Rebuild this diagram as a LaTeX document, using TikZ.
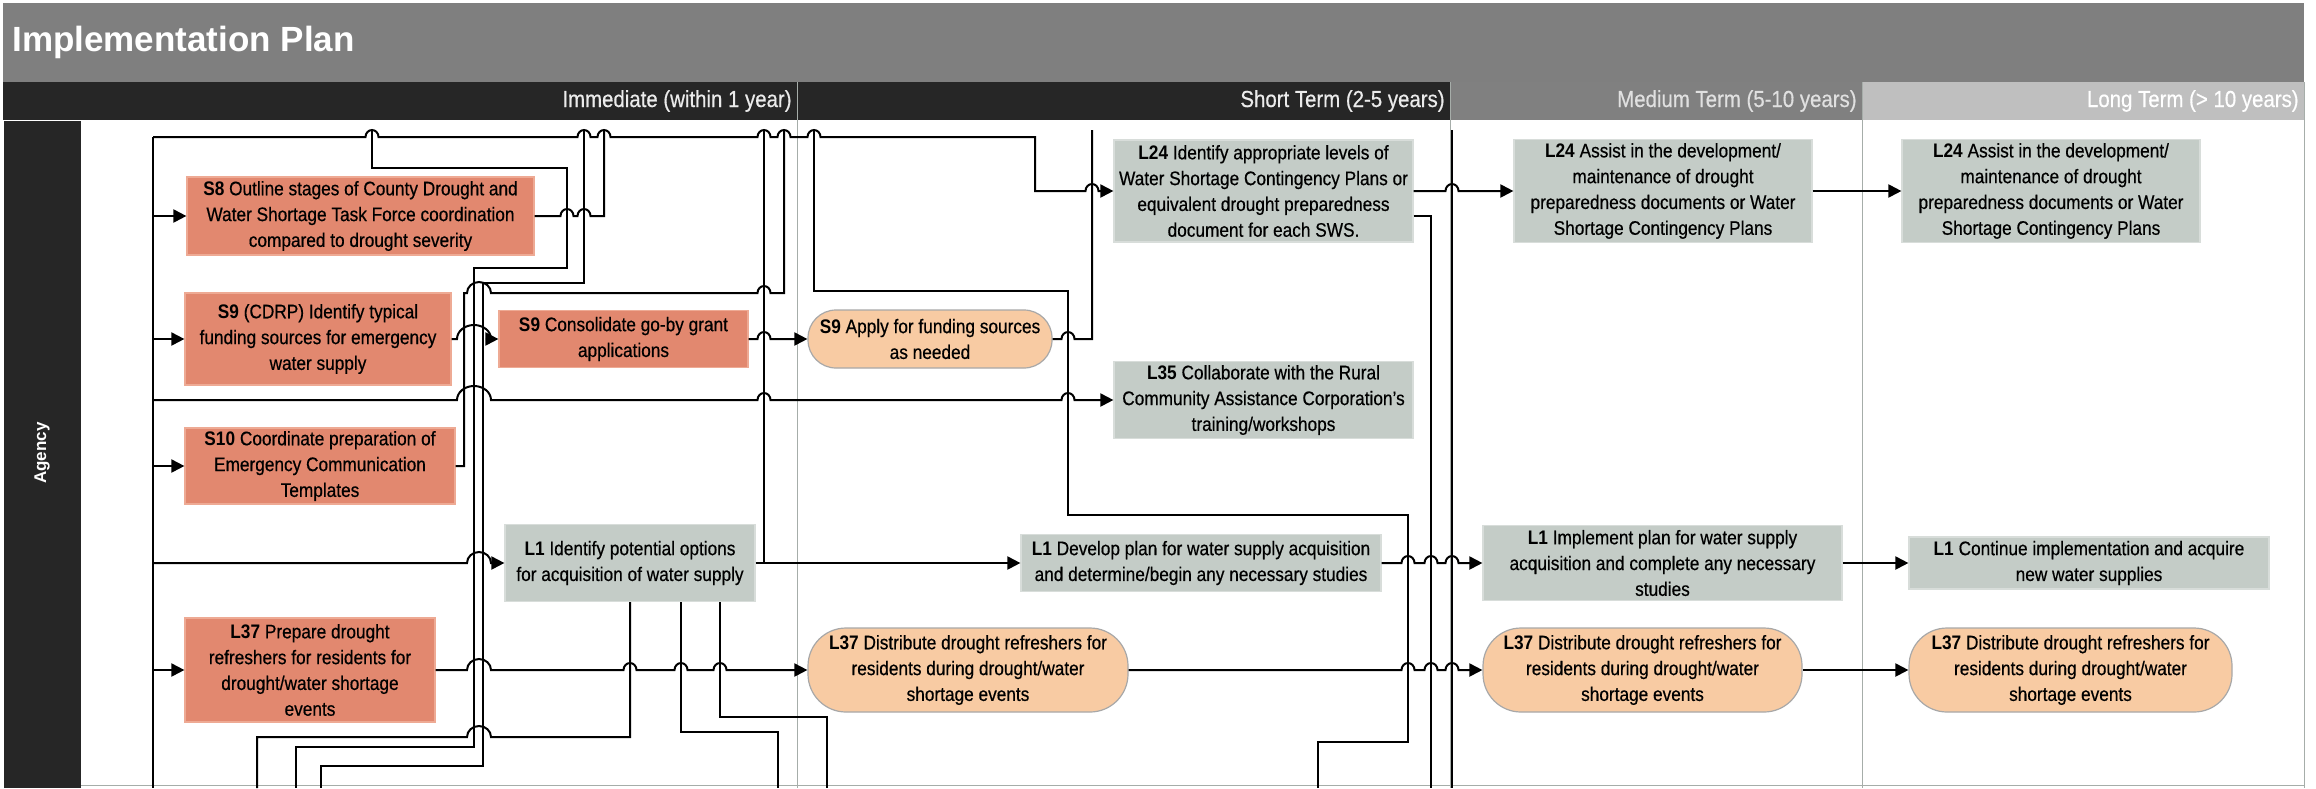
\documentclass[tikz,border=0pt]{standalone}
\usepackage{fontspec}
\setmainfont{Liberation Sans}
\newfontfamily\cond{Liberation Sans}[FakeStretch=0.88,UprightFeatures={FakeBold=0.5}]
\usetikzlibrary{arrows.meta}
\definecolor{titlegray}{HTML}{7F7F7F}
\definecolor{hdrdark}{HTML}{262626}
\definecolor{hdrmid}{HTML}{808080}
\definecolor{hdrlight}{HTML}{BFBFBF}
\definecolor{salm}{HTML}{E2886F}
\definecolor{salmedge}{HTML}{EEAA94}
\definecolor{grayfill}{HTML}{C4CCC7}
\definecolor{grayedge}{HTML}{D8DDDA}
\definecolor{peachfill}{HTML}{F8CBA3}
\definecolor{peachedge}{HTML}{A8A8A8}
\definecolor{sepgray}{HTML}{A6ADA9}
\newcommand\boxfont{\cond\fontsize{9.8}{12.9}\selectfont}
\newcommand\hopr[4]{-- (#1-#3,#2) arc[start angle=180,end angle=0,x radius=#3*0.5pt,y radius=#4*0.5pt]}
\newcommand\hopl[4]{-- (#1+#3,#2) arc[start angle=0,end angle=180,x radius=#3*0.5pt,y radius=#4*0.5pt]}
\newcommand\hs[2]{\hopr{#1}{#2}{6.5}{7}}
\begin{document}
\begin{tikzpicture}[x=0.5pt,y=-0.5pt,
  nbox/.style={rectangle,inner sep=1pt,align=center,font=\boxfont,text=black,line width=0.6pt},
  nsalm/.style={nbox,fill=salm,draw=salmedge},
  ngray/.style={nbox,fill=grayfill,draw=grayedge},
  npeach/.style={nbox,fill=peachfill,draw=peachedge},
  conn/.style={line width=1pt,draw=black},
  arr/.style={-{Triangle[length=6.5pt,width=6.5pt]}},
  busline/.style={line width=1.4pt,draw=black},
  sepline/.style={line width=0.5pt,draw=sepgray},
  hdr/.style={anchor=east,inner sep=0pt,font=\cond\fontsize{11.6}{13}\selectfont}]
\useasboundingbox (0,0) rectangle (2316,788);
\fill[white] (0,0) rectangle (2316,788);
% title bar
\fill[titlegray] (3,3) rectangle (2304,82);
\node[anchor=west,text=white,inner sep=0pt,font=\bfseries\fontsize{17.5}{20}\selectfont] (title) at (12,42) {Implementation Plan};
% header row
\fill[hdrdark] (3,82) rectangle (1450,120);
\fill[hdrmid] (1450,82) rectangle (1862,120);
\fill[hdrlight] (1862,82) rectangle (2304,120);
\node[hdr,text=white!92!black] (h1) at (792,101) {Immediate (within 1 year)};
\node[hdr,text=white!92!black] (h2) at (1445,101) {Short Term (2-5 years)};
\node[hdr,text=white!88!black] (h3) at (1857,101) {Medium Term (5-10 years)};
\node[hdr,text=white] (h4) at (2299,101) {Long Term (> 10 years)};
% lane label
\fill[hdrdark] (4,121) rectangle (81,788);
\node[rotate=90,text=white,inner sep=0pt,font=\bfseries\fontsize{8.5}{10}\selectfont] (agency) at (42,453) {Agency};
% separators
\draw[sepline] (797,82) -- (797,788);
\draw[sepline] (1450,82) -- (1450,788);
\draw[sepline] (1862,82) -- (1862,788);
\draw[sepline] (2304,82) -- (2304,788);
\draw[sepline] (81,785) -- (2304,785);

% nodes
\node[nsalm,minimum width=173.5pt,minimum height=39pt] (s8) at (360.5,216) {\textbf{S8} Outline stages of County Drought and\\Water Shortage Task Force coordination\\compared to drought severity};
\node[nsalm,minimum width=133pt,minimum height=46pt] (s9a) at (318,339) {\textbf{S9} (CDRP) Identify typical\\funding sources for emergency\\water supply};
\node[nsalm,minimum width=124.5pt,minimum height=28.5pt] (s9b) at (623.5,339) {\textbf{S9} Consolidate go-by grant\\applications};
\node[nsalm,minimum width=135pt,minimum height=38pt] (s10) at (320,466) {\textbf{S10} Coordinate preparation of\\Emergency Communication\\Templates};
\node[ngray,minimum width=125pt,minimum height=38.5pt] (l1a) at (630,563) {\textbf{L1} Identify potential options\\for acquisition of water supply};
\node[nsalm,minimum width=125pt,minimum height=52pt] (l37a) at (310,670) {\textbf{L37} Prepare drought\\refreshers for residents for\\drought/water shortage\\events};
\node[npeach,rounded corners=14pt,minimum width=122pt,minimum height=29pt] (s9c) at (930,339) {\textbf{S9} Apply for funding sources\\as needed};
\node[ngray,minimum width=149.5pt,minimum height=51pt] (l24a) at (1263.5,191) {\textbf{L24} Identify appropriate levels of\\Water Shortage Contingency Plans or\\equivalent drought preparedness\\document for each SWS.};
\node[ngray,minimum width=149.5pt,minimum height=38.5pt] (l35) at (1263.5,400) {\textbf{L35} Collaborate with the Rural\\Community Assistance Corporation’s\\training/workshops};
\node[ngray,minimum width=180pt,minimum height=28.5pt] (l1b) at (1201,563) {\textbf{L1} Develop plan for water supply acquisition\\and determine/begin any necessary studies};
\node[npeach,rounded corners=19pt,minimum width=160pt,minimum height=42pt] (l37b) at (968,670) {\textbf{L37} Distribute drought refreshers for\\residents during drought/water\\shortage events};
\node[ngray,minimum width=149pt,minimum height=51.5pt] (l24b) at (1663,191) {\textbf{L24} Assist in the development/\\maintenance of drought\\preparedness documents or Water\\Shortage Contingency Plans};
\node[ngray,minimum width=179.5pt,minimum height=37.5pt] (l1c) at (1662.5,563) {\textbf{L1} Implement plan for water supply\\acquisition and complete any necessary\\studies};
\node[npeach,rounded corners=19pt,minimum width=159.5pt,minimum height=42pt] (l37c) at (1642.5,670) {\textbf{L37} Distribute drought refreshers for\\residents during drought/water\\shortage events};
\node[ngray,minimum width=149pt,minimum height=51.5pt] (l24c) at (2051,191) {\textbf{L24} Assist in the development/\\maintenance of drought\\preparedness documents or Water\\Shortage Contingency Plans};
\node[ngray,minimum width=180pt,minimum height=26pt] (l1d) at (2089,563) {\textbf{L1} Continue implementation and acquire\\new water supplies};
\node[npeach,rounded corners=19pt,minimum width=161.5pt,minimum height=42pt] (l37d) at (2070.5,670) {\textbf{L37} Distribute drought refreshers for\\residents during drought/water\\shortage events};

% bus
\coordinate (bustop) at (153,137);
\coordinate (busbot) at (153,788);
\draw[busline] (bustop) -- (busbot);
\draw[conn,arr] (bustop) \hs{372}{137} \hs{584}{137} \hs{604}{137} \hs{764}{137} \hs{784}{137} \hs{814}{137} -- (1035,137) -- (1035,191) \hs{1092}{191} -- (l24a.west);
\draw[conn,arr] (bustop |- s8.west) -- (s8.west);
\draw[conn,arr] (bustop |- s9a.west) -- (s9a.west);
\draw[conn,arr] (bustop |- s10.west) -- (s10.west);
\draw[conn,arr] (bustop |- l37a.west) -- (l37a.west);
\draw[conn,arr] (bustop |- l35.west) \hopr{474}{400}{17}{14} \hs{764}{400} \hs{1068}{400} -- (l35.west);
\draw[conn,arr] (bustop |- l1a.west) \hopr{479}{563}{12}{11} -- (l1a.west);

% immediate column routes
\draw[conn] (s8.east) \hs{567}{216} \hs{584}{216} -- (604,216) -- (604,130);
\draw[conn] (372,130) -- (372,168) -- (567,168) -- (567,268) -- (474,268) -- (474,747) -- (296,747) -- (296,788);
\draw[conn] (584,130) -- (584,283) -- (483,283) -- (483,766) -- (321,766) -- (321,788);
\draw[conn] (s10.east) -- (464,466) -- (464,293) \hopr{479}{293}{12}{11} \hs{764}{293} -- (784,293) -- (784,130);
\draw[conn,arr] (s9a.east) \hopr{474}{339}{17}{14} -- (s9b.west);
\draw[conn,arr] (s9b.east) \hs{764}{339} -- (s9c.west);
\draw[conn] (s9c.east) \hs{1068}{339} -- (1092,339) -- (1092,130);

% L1 identify
\draw[conn,arr] (l1a.east) -- (l1b.west);
\draw[conn] (l1a.east -| 764,0) -- (764,130);
\draw[conn] (l1a.south) -- (630,737) \hopl{479}{737}{12}{11} -- (257,737) -- (257,788);
\draw[conn] (l1a.south -| 681,0) -- (681,732) -- (778,732) -- (778,788);
\draw[conn] (l1a.south -| 720,0) -- (720,717) -- (827,717) -- (827,788);

% long route
\draw[conn] (814,130) -- (814,291) -- (1068,291) -- (1068,515) -- (1408,515) -- (1408,742) -- (1318,742) -- (1318,788);

% L37 chain
\draw[conn,arr] (l37a.east) \hopr{479}{670}{12}{11} \hs{630}{670} \hs{681}{670} \hs{720}{670} -- (l37b.west);
\draw[conn,arr] (l37b.east) \hs{1408}{670} \hs{1431}{670} \hs{1452}{670} -- (l37c.west);
\draw[conn,arr] (l37c.east) -- (l37d.west);

% L1 chain
\draw[conn,arr] (l1b.east) \hs{1408}{563} \hs{1431}{563} \hs{1452}{563} -- (l1c.west);
\draw[conn,arr] (l1c.east) -- (l1d.west);

% L24 chain
\draw[conn,arr] (l24a.east) \hs{1452}{191} -- (l24b.west);
\draw[conn] (l24a.east |- 0,216) -- (1431,216) -- (1431,788);
\draw[conn,arr] (l24b.east) -- (l24c.west);
\draw[conn] (1452,130) -- (1452,788);
\end{tikzpicture}
\end{document}
